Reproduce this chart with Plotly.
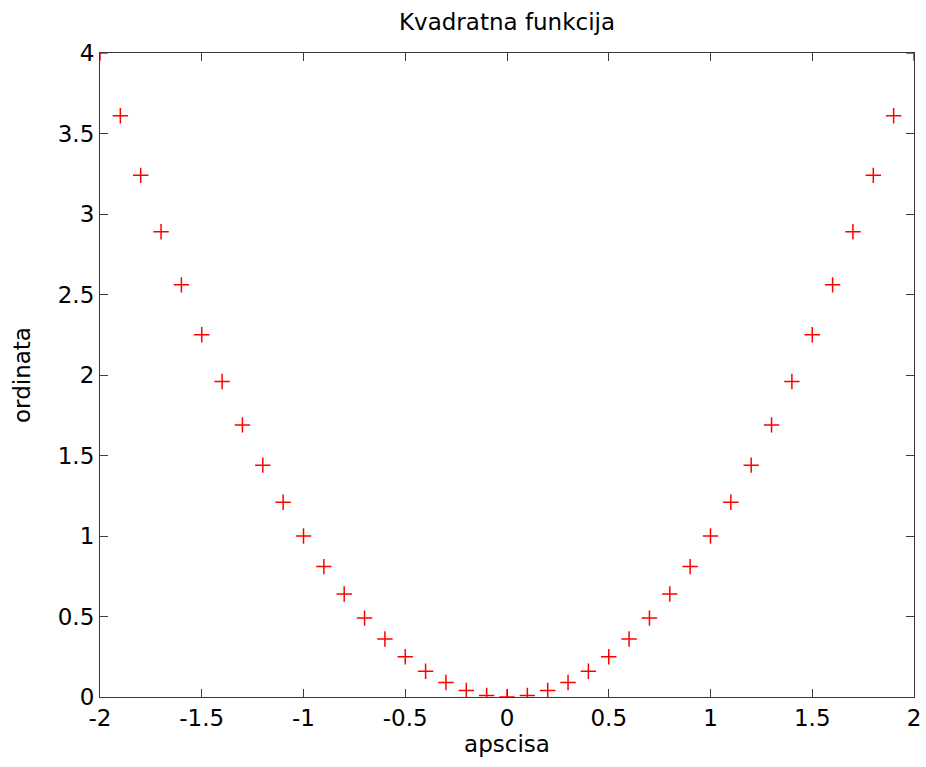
import plotly.graph_objects as go

x_vals = [-2.0, -1.9, -1.8, -1.7, -1.6, -1.5, -1.4, -1.3, -1.2, -1.1, -1.0,
          -0.9, -0.8, -0.7, -0.6, -0.5, -0.4, -0.3, -0.2, -0.1, 0.0,
          0.1, 0.2, 0.3, 0.4, 0.5, 0.6, 0.7, 0.8, 0.9, 1.0,
          1.1, 1.2, 1.3, 1.4, 1.5, 1.6, 1.7, 1.8, 1.9, 2.0]
y_vals = [4.00, 3.61, 3.24, 2.89, 2.56, 2.25, 1.96, 1.69, 1.44, 1.21, 1.00,
          0.81, 0.64, 0.49, 0.36, 0.25, 0.16, 0.09, 0.04, 0.01, 0.00,
          0.01, 0.04, 0.09, 0.16, 0.25, 0.36, 0.49, 0.64, 0.81, 1.00,
          1.21, 1.44, 1.69, 1.96, 2.25, 2.56, 2.89, 3.24, 3.61, 4.00]
x_ticks = [-2, -1.5, -1, -0.5, 0, 0.5, 1, 1.5, 2]
y_ticks = [0, 0.5, 1, 1.5, 2, 2.5, 3, 3.5, 4]

fig = go.Figure()
fig.add_trace(go.Scatter(
    x=x_vals, y=y_vals, mode="markers",
    marker=dict(symbol="cross-thin", size=11, line=dict(color="red", width=1.5), color="red"),
    cliponaxis=True, showlegend=False,
))

font = dict(family="DejaVu Sans, Verdana, sans-serif", size=23, color="black")
axis_common = dict(
    showgrid=False, zeroline=False, showline=True, linecolor="#3a3a3a", linewidth=1.2,
    mirror="ticks", ticks="inside", ticklen=8, tickcolor="#3a3a3a", tickwidth=1.2,
    tickfont=font, automargin=False,
)
fig.update_layout(
    width=926, height=767,
    margin=dict(l=100, r=12, t=53, b=70),
    paper_bgcolor="white", plot_bgcolor="white",
    title=dict(text="Kvadratna funkcija", x=0.5, xref="paper", xanchor="center",
               y=0.971, yanchor="middle", font=font),
    xaxis=dict(range=[-2, 2], tickvals=x_ticks, ticktext=[str(t) for t in x_ticks],
               title=dict(text="apscisa", font=font, standoff=5), **axis_common),
    yaxis=dict(range=[0, 4], tickvals=y_ticks, ticktext=[str(t) for t in y_ticks],
               title=dict(text="ordinata", font=font, standoff=20), **axis_common),
)
fig.write_html("out.html")
